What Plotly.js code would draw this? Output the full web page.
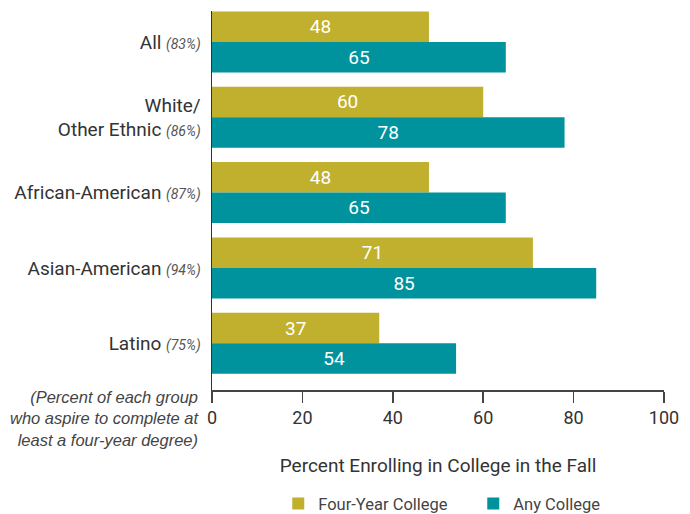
<!DOCTYPE html>
<html>
<head>
<meta charset="utf-8">
<script src="https://cdn.plot.ly/plotly-3.0.1.min.js"></script>
<style>html,body{margin:0;padding:0;background:#fff;}#chart{width:690px;height:514px;}</style>
</head>
<body>
<div id="chart"></div>
<script>
var categories = ["All", "White/<br>Other Ethnic", "African-American", "Asian-American", "Latino"];
var aspirePct = ["83%", "86%", "87%", "94%", "75%"];
var fourYear = [48, 60, 48, 71, 37];
var anyCollege = [65, 78, 65, 85, 54];
var seriesNames = ["Four-Year College", "Any College"];
var xTicks = [0, 20, 40, 60, 80, 100];

var FONT = "Roboto, 'Liberation Sans', sans-serif";
var tickText = categories.map(function (c, i) {
  return c + " <i><span style='font-size:14px;color:#555'>(" + aspirePct[i] + ")</span></i>";
});

var traces = [
  {
    type: "bar", orientation: "h", name: seriesNames[0],
    y: categories, x: fourYear, text: fourYear.map(String),
    textposition: "inside", insidetextanchor: "middle",
    textfont: {color: "#ffffff", size: 19, family: FONT},
    marker: {color: "#C0B02D"}, hoverinfo: "none"
  },
  {
    type: "bar", orientation: "h", name: seriesNames[1],
    y: categories, x: anyCollege, text: anyCollege.map(String),
    textposition: "inside", insidetextanchor: "middle",
    textfont: {color: "#ffffff", size: 19, family: FONT},
    marker: {color: "#00939D"}, hoverinfo: "none"
  }
];

var layout = {
  width: 690, height: 514,
  margin: {l: 212, r: 26, t: 11, b: 124, autoexpand: false},
  paper_bgcolor: "#ffffff", plot_bgcolor: "#ffffff",
  barmode: "group", bargap: 0.19, bargroupgap: 0,
  font: {family: FONT, color: "#333333", size: 19},
  showlegend: true,
  legend: {
    orientation: "h", x: 0.578, xanchor: "center", y: -0.30, yanchor: "middle",
    font: {family: FONT, size: 16.5, color: "#444"},
    traceorder: "normal", entrywidth: 150, entrywidthmode: "pixels"
  },
  xaxis: {
    range: [0, 100], tickvals: xTicks, ticktext: xTicks.map(String),
    showgrid: false, zeroline: false, automargin: false,
    showline: true, linecolor: "#444", linewidth: 1.5,
    ticks: "outside", ticklen: 11, tickwidth: 1.5, tickcolor: "#444",
    tickfont: {family: FONT, size: 18, color: "#333"},
    title: {text: "Percent Enrolling in College in the Fall", standoff: 31,
            font: {family: FONT, size: 19, color: "#333"}},
    fixedrange: true
  },
  yaxis: {
    type: "category", range: [4.62, -0.41], automargin: false,
    tickvals: categories, ticktext: tickText,
    showgrid: false, zeroline: false,
    showline: true, linecolor: "#333", linewidth: 1.5,
    ticks: "outside", ticklen: 6, tickcolor: "rgba(0,0,0,0)",
    tickfont: {family: FONT, size: 19, color: "#333"},
    fixedrange: true
  },
  annotations: [
    {
      xref: "paper", yref: "paper", x: -0.024, y: -0.075,
      xanchor: "right", yanchor: "middle", align: "right", showarrow: false,
      text: "(Percent of each group<br>who aspire to complete at<br>least a four-year degree)",
      font: {family: "'Liberation Sans', Arial, sans-serif", size: 16.5, color: "#444", style: "italic"}
    }
  ]
};

Plotly.newPlot("chart", traces, layout, {displayModeBar: false, staticPlot: true});
</script>
</body>
</html>
